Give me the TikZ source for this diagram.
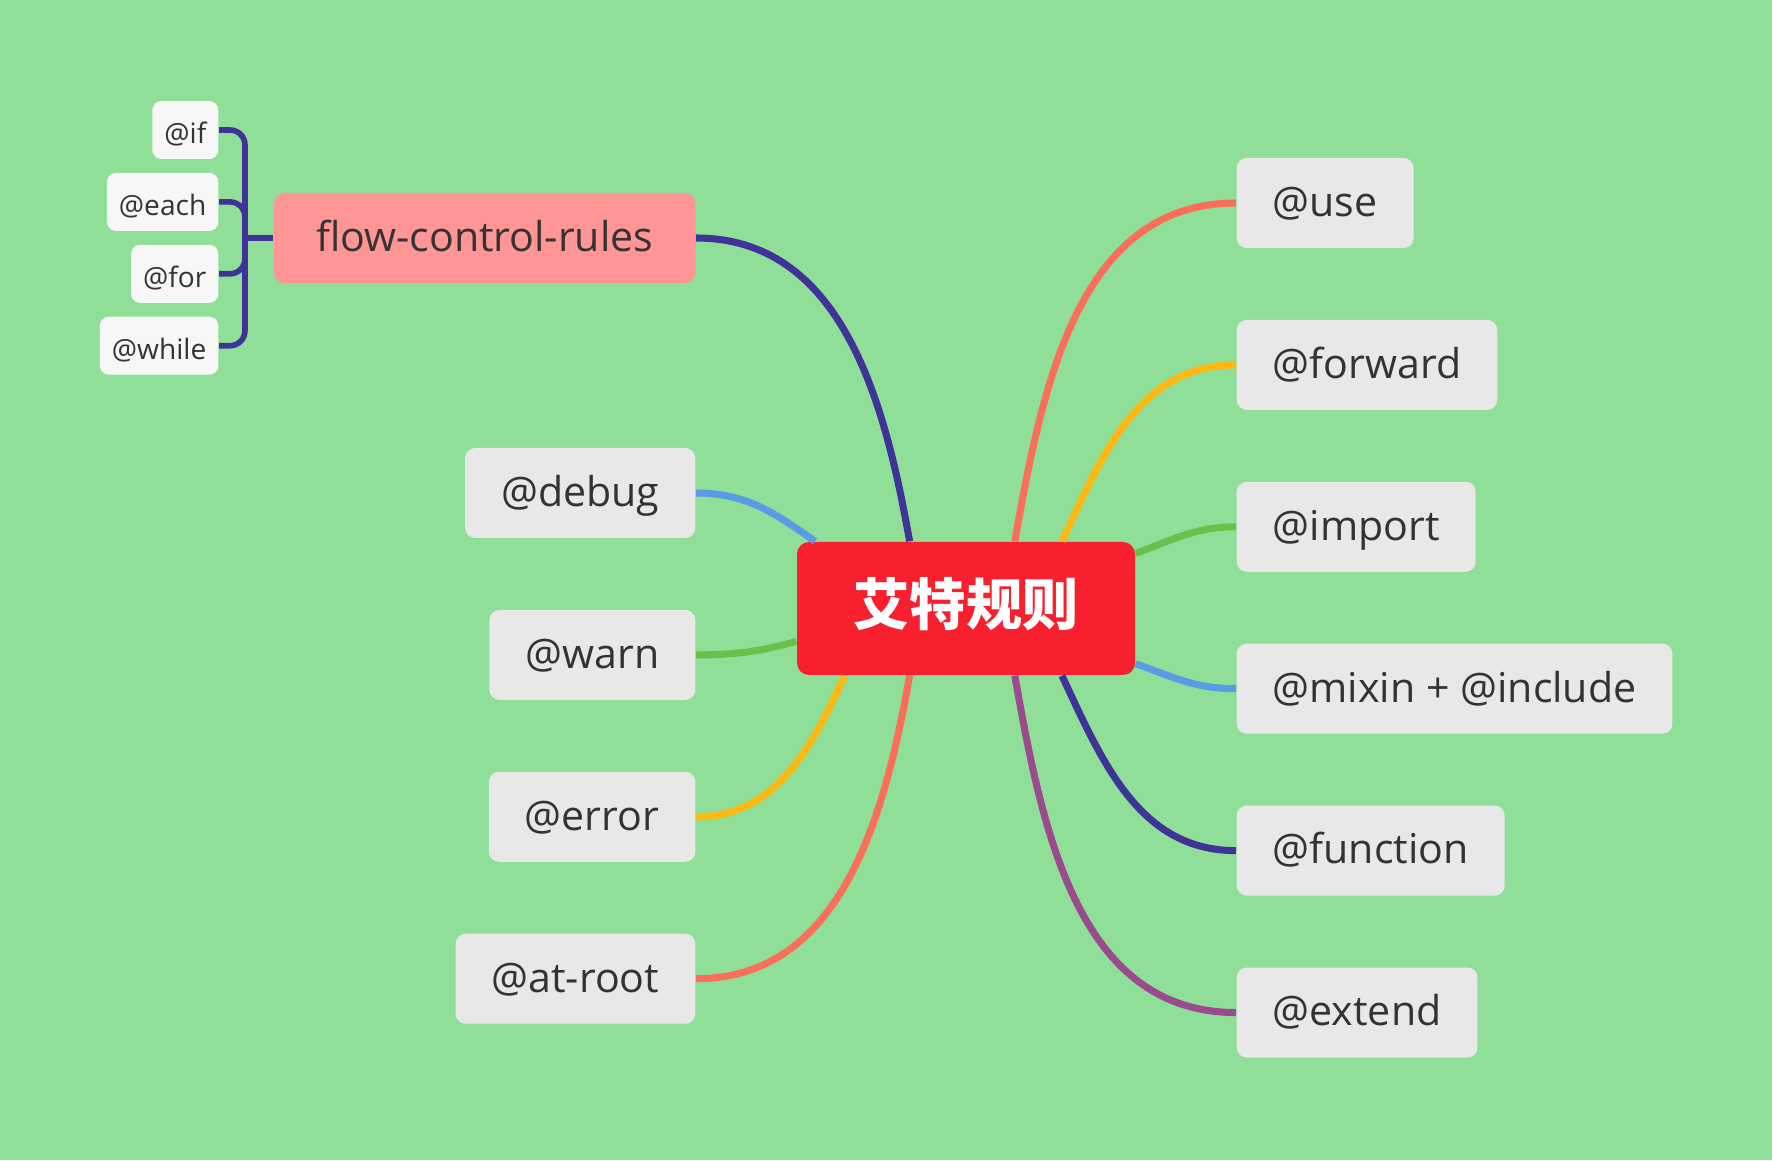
\documentclass[tikz,border=0pt]{standalone}
\usepackage{fontspec}
\setmainfont{Open Sans}
\newfontfamily\cjkfont{Noto Sans CJK SC}
\usetikzlibrary{positioning}

\definecolor{meadow}{HTML}{8FDF99}
\definecolor{rootred}{HTML}{F8202F}
\definecolor{flowpink}{HTML}{FF9595}
\definecolor{leafgray}{HTML}{E8E8E8}
\definecolor{twigwhite}{HTML}{F7F7F7}
\definecolor{ink}{HTML}{333333}
\definecolor{indigo}{HTML}{3F3397}
\definecolor{sky}{HTML}{5A9BE6}
\definecolor{grass}{HTML}{6CC04A}
\definecolor{amber}{HTML}{FDB813}
\definecolor{coral}{HTML}{FA6E5A}
\definecolor{plum}{HTML}{9B4A8E}

\tikzset{
  topic/.style={rectangle, rounded corners=1.2mm, fill=rootred, text=white,
    font=\cjkfont\bfseries\fontsize{16}{18}\selectfont,
    minimum width=33.8mm, minimum height=13.3mm,
    text height=1.05em, text depth=0.08em},
  leaf/.style={rectangle, rounded corners=1mm, fill=leafgray, text=ink,
    font=\fontsize{11.7}{14}\selectfont, inner xsep=3.6mm, minimum height=9mm,
    text height=0.76em, text depth=0pt},
  twig/.style={leaf, fill=twigwhite, rounded corners=0.9mm,
    font=\fontsize{8}{10}\selectfont, inner xsep=1.2mm, minimum height=5.8mm},
  link/.style={line width=2pt},
  fork/.style={line width=1.6pt, draw=indigo, rounded corners=1.5mm}
}

\begin{document}
\begin{tikzpicture}[x=1mm, y=1mm]
  \fill[meadow] (0,0) rectangle (177.2,116);
  \useasboundingbox (0,0) rectangle (177.2,116);

  \node (root) [topic] at (96.6,55.15) {艾特规则};

  \node (flow) [leaf, fill=flowpink, inner xsep=4.2mm, anchor=east] at (69.6,92.2) {flow-control-rules};
  \node (debug) [leaf, anchor=east] at (69.6,66.7) {@debug};
  \node (warn) [leaf, below=7.05mm of debug.south east, anchor=north east] {@warn};
  \node (error) [leaf, below=7.05mm of warn.south east, anchor=north east] {@error};
  \node (atroot) [leaf, below=7.05mm of error.south east, anchor=north east] {@at-root};

  \node (use) [leaf, anchor=west] at (123.6,95.7) {@use};
  \node (forward) [leaf, below=7.05mm of use.south west, anchor=north west] {@forward};
  \node (import) [leaf, below=7.05mm of forward.south west, anchor=north west] {@import};
  \node (mixin) [leaf, below=7.05mm of import.south west, anchor=north west] {@mixin + @include};
  \node (function) [leaf, below=7.05mm of mixin.south west, anchor=north west] {@function};
  \node (extend) [leaf, below=7.05mm of function.south west, anchor=north west] {@extend};

  \node (if) [twig, anchor=east] at (21.9,103.0) {@if};
  \node (each) [twig, below=1.25mm of if.south east, anchor=north east] {@each};
  \node (for) [twig, below=1.25mm of each.south east, anchor=north east] {@for};
  \node (while) [twig, below=1.25mm of for.south east, anchor=north east] {@while};

  \coordinate (hub) at (24.5,92.2);
  \foreach \t in {if,each,for,while}
    \draw[fork] (\t.east) -| (hub);
  \draw[fork] (hub) -- (flow.west);

  \path[link]
    (flow.east) edge[indigo, out=0, in=100] (root.130)
    (debug.east) edge[sky, out=0, in=145] (root.156)
    (warn.east) edge[grass, out=0, in=195] (root.191)
    (error.east) edge[amber, out=0, in=245] (root.209)
    (atroot.east) edge[coral, out=0, in=260] (root.230)
    (use.west) edge[coral, out=180, in=80] (root.54)
    (forward.west) edge[amber, out=180, in=65] (root.35)
    (import.west) edge[grass, out=180, in=20] (root.18)
    (mixin.west) edge[sky, out=180, in=-20] (root.342)
    (function.west) edge[indigo, out=180, in=-65] (root.325)
    (extend.west) edge[plum, out=180, in=-80] (root.306);
\end{tikzpicture}
\end{document}
